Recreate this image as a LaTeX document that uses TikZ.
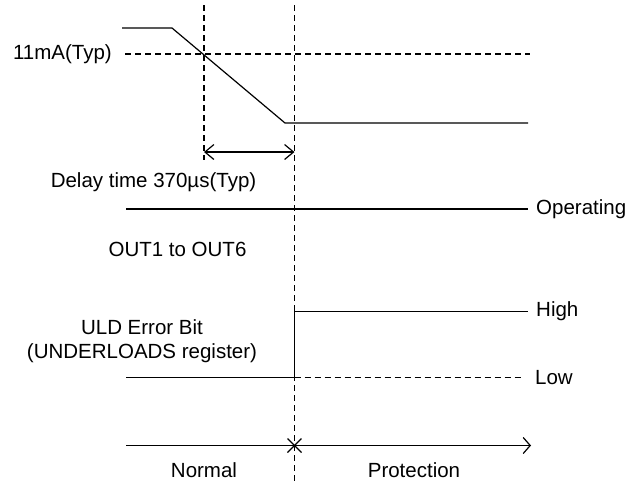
\documentclass[tikz,border=0pt]{standalone}
\usepackage{fontspec}
\setmainfont{Liberation Sans}
\usetikzlibrary{arrows.meta,calc}
\begin{document}
\begin{tikzpicture}[x=1pt,y=-1pt,
  lbl/.style={inner sep=0pt,font=\fontsize{20.5}{24}\selectfont},
  sig/.style={line width=1.2pt},
  guide/.style={line width=1.2pt,dash pattern=on 6pt off 4pt},
  barb/.style={line width=1.2pt,{Straight Barb[length=9pt,width=15pt]}-{Straight Barb[length=9pt,width=15pt]}}
]
\useasboundingbox (0,0) rectangle (630,482);
% current waveform
\coordinate (i0) at (122,28);
\coordinate (i1) at (172,28);
\coordinate (i2) at (285,123);
\coordinate (i3) at (528,123);
\draw[sig] (i0) -- (i1) -- (i2) -- (i3);
% threshold
\node[lbl,anchor=east] (th) at (112,54) {11mA(Typ)};
\coordinate (thA) at (125,54);
\coordinate (thB) at (530,54);
\draw[guide] (thA) -- (thB);
% vertical guides
\coordinate (v1a) at (204,5);
\coordinate (v1b) at (204,160);
\coordinate (v2a) at (294.5,5);
\coordinate (v2b) at (294.5,482);
\draw[guide] (v1a) -- (v1b);
\draw[guide] (v2a) -- (v2b);
% delay arrow
\coordinate (dA) at (204,152);
\coordinate (dB) at (294.5,152);
\draw[barb] (dA) -- (dB);
\node[lbl] (delay) at (153.5,182) {Delay time 370µs(Typ)};
% operating line
\coordinate (oA) at (126,209);
\coordinate (oB) at (528,209);
\draw[sig] (oA) -- (oB);
\draw[guide,line width=1.35pt] (oA) -- (oB);
\node[lbl,anchor=west] (op) at (536,209) {Operating};
\node[lbl] (out) at (177.5,249) {OUT1 to OUT6};
% ULD error bit
\node[lbl,align=center] (uld) at (142,341) {ULD Error Bit\\(UNDERLOADS register)};
\coordinate (u0) at (126,377.5);
\coordinate (u1) at (294.5,377.5);
\coordinate (u2) at (294.5,311.5);
\coordinate (u3) at (528,311.5);
\coordinate (u4) at (524,377.5);
\draw[sig] (u0) -- (u1) -- (u2) -- (u3);
\draw[guide] (u1) -- (u4);
\node[lbl,anchor=west] (hi) at (536,311.5) {High};
\node[lbl,anchor=west] (lo) at (535,377.5) {Low};
% time axis
\coordinate (tA) at (126,445.5);
\coordinate (tB) at (531,445.5);
\coordinate (tx) at (294.5,445.5);
\draw[sig,-{Straight Barb[length=7pt,width=16pt]}] (tA) -- (tB);
\draw[sig] ($(tx)+(-7,-7)$) -- ($(tx)+(7,7)$);
\draw[sig] ($(tx)+(-7,7)$) -- ($(tx)+(7,-7)$);
\node[lbl] (nor) at (204,470) {Normal};
\node[lbl] (pro) at (414,470) {Protection};
\end{tikzpicture}
\end{document}
